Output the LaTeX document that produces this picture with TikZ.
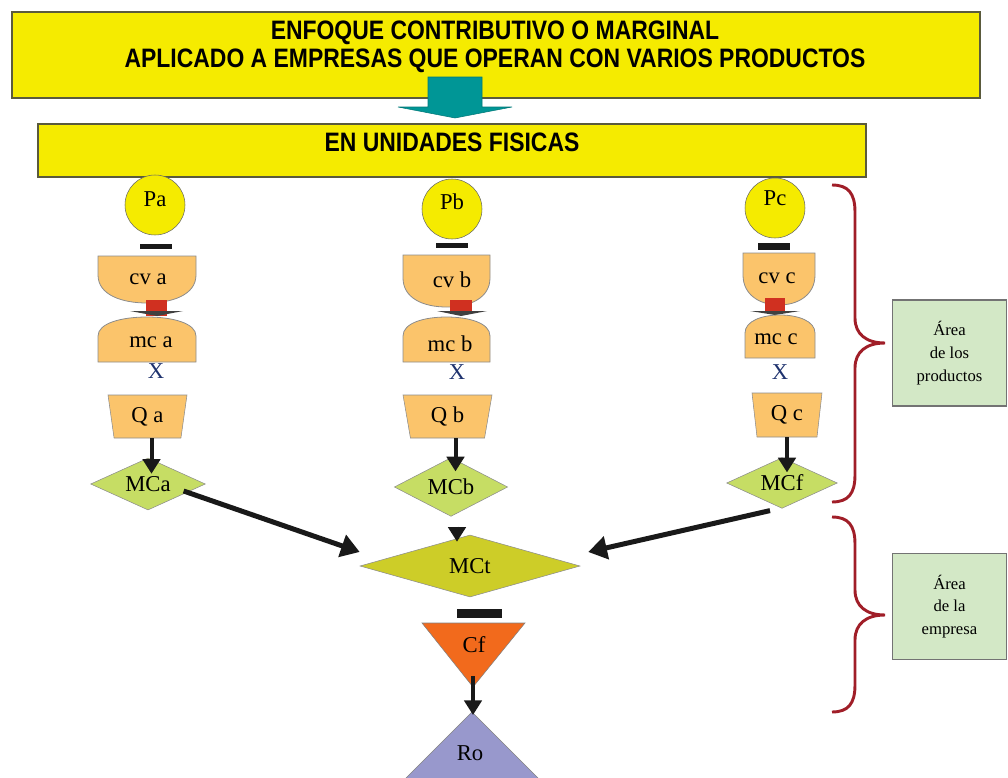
\documentclass[tikz,border=0pt]{standalone}
\usepackage{fontspec}
\setmainfont{Liberation Serif}
\newfontfamily\titlefont[FakeStretch=0.86]{Liberation Sans}
\usetikzlibrary{shapes.geometric,arrows.meta,calc}

\definecolor{boxyellow}{RGB}{245,235,0}
\definecolor{arrowteal}{RGB}{0,150,150}
\definecolor{shapeorange}{RGB}{251,196,107}
\definecolor{linkred}{RGB}{208,48,32}
\definecolor{mcgreen}{RGB}{198,221,100}
\definecolor{mctolive}{RGB}{205,205,40}
\definecolor{cforange}{RGB}{242,106,28}
\definecolor{rolilac}{RGB}{152,152,204}
\definecolor{bracered}{RGB}{160,30,40}
\definecolor{areagreen}{RGB}{211,232,198}
\definecolor{xblue}{RGB}{30,50,110}

\begin{document}
\begin{tikzpicture}[x=0.75pt,y=0.75pt,yscale=-1,xscale=1,
	lbl/.style={font=\fontsize{17}{20}\selectfont},
	headtxt/.style={font=\titlefont\fontsize{20}{21}\selectfont\bfseries,align=center},
	yellowbox/.style={draw={rgb,255:red,90;green,90;blue,60},fill=boxyellow,line width=0.8pt,inner sep=0pt},
	pcirc/.style={circle,draw=black!60,fill=boxyellow,minimum size=45pt,inner sep=0pt},
	orangepart/.style={draw=black!45,fill=shapeorange,line width=0.6pt},
	qtrap/.style={trapezium,trapezium stretches body,draw=black!45,fill=shapeorange,minimum height=32.25pt,inner sep=0pt,lbl},
	mcdiam/.style={diamond,aspect=2.2,draw=black!45,fill=mcgreen,inner sep=0pt,lbl},
	fatarrow/.style={draw=black!90,line width=3.75pt,-{Triangle[length=14pt,width=17pt]}},
	downarrow/.style={draw=black!90,line width=3pt,-{Triangle[length=11pt,width=13pt]}},
	areabox/.style={draw=black!55,fill=areagreen,line width=0.8pt,minimum width=86pt,minimum height=79.5pt,align=center,font=\fontsize{12.5}{17}\selectfont},
	bracket/.style={draw=bracered,line width=2.2pt}]
	\path[use as bounding box] (0,0) rectangle (1008,778);
	\clip (0,0) rectangle (1008,778);
	
	%Header boxes
	\node[yellowbox,minimum width=726pt,minimum height=64.5pt] (titlebox) at (496,55) {};
	\draw[draw={rgb,255:red,0;green,120;blue,120},fill=arrowteal] (428,77) -- (482,77) -- (482,107) -- (512,107) -- (455,118) -- (398,107) -- (428,107) -- cycle ;
	\node[yellowbox,minimum width=621pt,minimum height=39.75pt] (unitsbox) at (452,150.5) {};
	% Text Node
	\node[headtxt] (titletxt) at (495,47) {ENFOQUE CONTRIBUTIVO O MARGINAL\\APLICADO A EMPRESAS QUE OPERAN CON VARIOS PRODUCTOS};
	% Text Node
	\node[headtxt] (unitstxt) at (452,142) {EN UNIDADES FISICAS};
	
	%Column a
	\node[pcirc] (Pa) at (155,205) {};
	\node[lbl] (Pa-txt) at (155,199) {Pa};
	\fill[black!90] (140,244) rectangle (172,249) ;
	\draw[orangepart] (98,256) -- (196,256) -- (196,275) .. controls (196,295) and (172,303) .. (147,303) .. controls (122,303) and (98,295) .. (98,275) -- cycle ;
	\fill[linkred] (146,300) rectangle (167,316) ;
	\fill[black!75] (130,311) -- (183,311) -- (157,316) -- cycle ;
	\draw[orangepart] (98,362) -- (98,336) .. controls (98,323) and (122,317) .. (147,317) .. controls (172,317) and (196,323) .. (196,336) -- (196,362) -- cycle ;
	\node[lbl] (cva) at (148,279) {cv a};
	\node[lbl] (mca) at (151,342) {mc a};
	\node[lbl,text=xblue] (Xa) at (156,371) {X};
	\node[qtrap,minimum width=59.25pt,trapezium left angle=108,trapezium right angle=108] (Qa) at (147.5,416.5) {Q a};
	\node[mcdiam,minimum width=86pt,minimum height=39pt] (MCa) at (148,484) {MCa};
	\draw[downarrow] ($(Qa.south)+(4,0)$) -- ($(Qa.south |- MCa.north)+(4,16)$) ;
	
	%Column b
	\node[pcirc] (Pb) at (452,209) {};
	\node[lbl] (Pb-txt) at (452,202) {Pb};
	\fill[black!90] (436,243) rectangle (468,248) ;
	\draw[orangepart] (403,255) -- (490,255) -- (490,278) .. controls (490,298) and (470,307) .. (446.5,307) .. controls (423,307) and (403,298) .. (403,278) -- cycle ;
	\fill[linkred] (450,300) rectangle (472,314) ;
	\fill[black!75] (437,311) -- (487,311) -- (461,316) -- cycle ;
	\draw[orangepart] (403,362) -- (403,336) .. controls (403,323) and (424,317) .. (446.5,317) .. controls (469,317) and (490,323) .. (490,336) -- (490,362) -- cycle ;
	\node[lbl] (cvb) at (452,280) {cv b};
	\node[lbl] (mcb) at (450,344) {mc b};
	\node[lbl,text=xblue] (Xb) at (457,372) {X};
	\node[qtrap,minimum width=66.75pt,trapezium left angle=111,trapezium right angle=111] (Qb) at (447.5,416.5) {Q b};
	\node[mcdiam,minimum width=85pt,minimum height=44pt] (MCb) at (451,487) {MCb};
	\draw[downarrow] ($(Qb.south)+(8,0)$) -- ($(Qb.south |- MCb.north)+(8,14)$) ;
	
	%Column c
	\node[pcirc] (Pc) at (775,208) {};
	\node[lbl] (Pc-txt) at (775,198) {Pc};
	\fill[black!90] (758,243) rectangle (790,250) ;
	\draw[orangepart] (743,253) -- (815,253) -- (815,275) .. controls (815,295) and (798,305) .. (779,305) .. controls (760,305) and (743,295) .. (743,275) -- cycle ;
	\fill[linkred] (765,298) rectangle (785,313) ;
	\fill[black!75] (750,311) -- (800,311) -- (775,315) -- cycle ;
	\draw[orangepart] (745,358) -- (745,333) .. controls (745,321) and (762,315) .. (780,315) .. controls (798,315) and (815,321) .. (815,333) -- (815,358) -- cycle ;
	\node[lbl] (cvc) at (777,278) {cv c};
	\node[lbl] (mcc) at (776,339) {mc c};
	\node[lbl,text=xblue] (Xc) at (780,372) {X};
	\node[qtrap,minimum width=52.5pt,minimum height=33pt,trapezium left angle=105,trapezium right angle=105] (Qc) at (787,415) {Q c};
	\node[mcdiam,minimum width=83pt,minimum height=38pt] (MCf) at (782,483) {MCf};
	\draw[downarrow] (Qc.south) -- ($(Qc.south |- MCf.north)+(0,15)$) ;
	
	%Company level
	\node[mcdiam,fill=mctolive,minimum width=165pt,minimum height=46.5pt] (MCt) at (470,566) {MCt};
	\draw[fatarrow] ($(MCa.east)+(-22,7)$) -- ($(MCt.west)+(0,-14)$) ;
	\draw[fatarrow] ($(MCf.south)+(-12,2)$) -- ($(MCt.east)+(8,-14)$) ;
	\draw[downarrow] ($(MCb.south)+(6,10)$) -- ($(MCt.north)+(-13,7)$) ;
	\fill[black!90] (457,609) rectangle (502,618) ;
	\draw[draw=black!50,fill=cforange] (422,623) -- (525,623) -- (473,687) -- cycle ;
	\node[lbl] (Cf) at (474,645) {Cf};
	\draw[draw=black!50,fill=rolilac] (472,712) -- (560,800) -- (384,800) -- cycle ;
	\node[lbl] (Ro) at (470,753) {Ro};
	\coordinate (cftip) at (473,676);
	\coordinate (rotop) at (473,715);
	\draw[downarrow] (cftip) -- (rotop) ;
	
	%Braces and areas
	\draw[bracket] (832,185) .. controls (848,185) and (855,193) .. (855,212) -- (855,318) .. controls (855,334) and (866,343) .. (885,343) .. controls (866,343) and (855,352) .. (855,368) -- (855,475) .. controls (855,494) and (848,502) .. (832,502) ;
	\draw[bracket] (832,517) .. controls (848,517) and (855,525) .. (855,544) -- (855,590) .. controls (855,606) and (866,615) .. (885,615) .. controls (866,615) and (855,624) .. (855,640) -- (855,685) .. controls (855,704) and (848,712) .. (832,712) ;
	\node[areabox] (area1) at (949.5,353) {Área\\de los\\productos};
	\node[areabox] (area2) at (949.5,606.5) {Área\\de la\\empresa};
\end{tikzpicture}
\end{document}
